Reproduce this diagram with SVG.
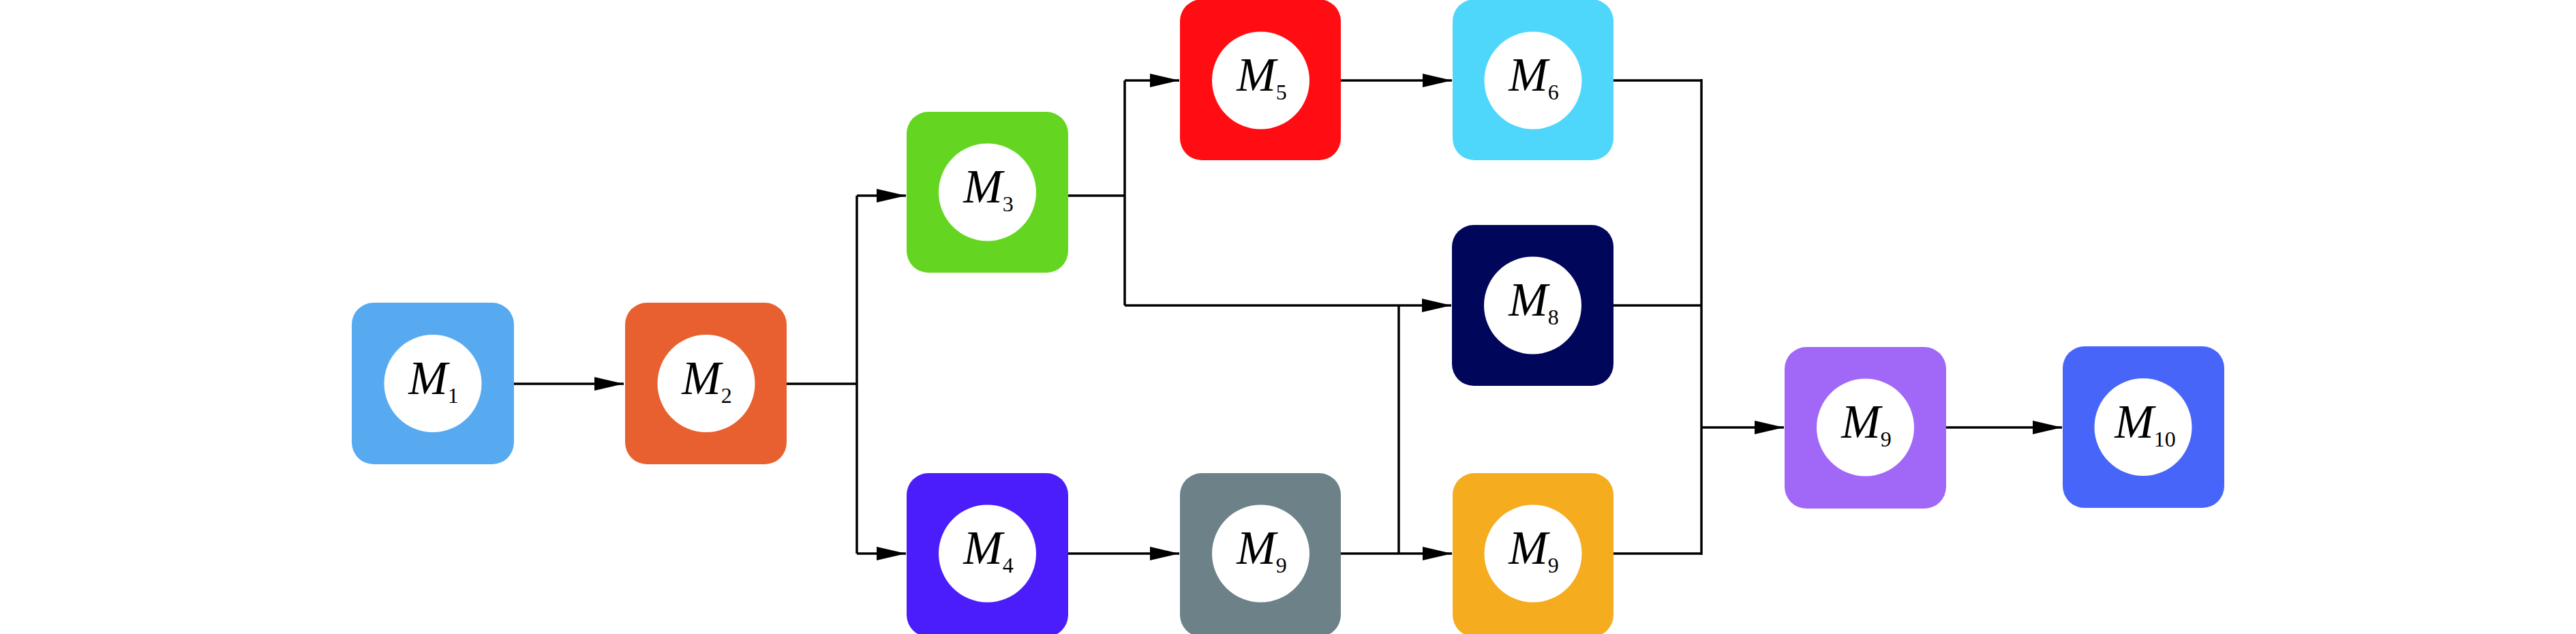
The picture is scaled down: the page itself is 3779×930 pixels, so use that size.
<svg xmlns="http://www.w3.org/2000/svg" width="3779" height="930" viewBox="0 0 3779 930">
<style>
.c{fill:#fff}
.t{font-family:"Liberation Serif","Times New Roman",serif;font-size:69px;font-style:italic;fill:#000;text-anchor:middle}
.s{font-size:32px;font-style:normal}
.e{fill:none;stroke:#000;stroke-width:3.5}
</style>
<defs>
<marker id="ah" markerUnits="userSpaceOnUse" markerWidth="44" markerHeight="22" refX="43" refY="10" orient="auto"><path d="M0,0 L43,10 L0,20 z" fill="#000"/></marker>
</defs>
<rect width="3779" height="930" fill="#fff"/>
<g id="connectors">
<path class="e" d="M754,563 H915" marker-end="url(#ah)"/>
<path class="e" d="M1154,563 H1257 M1257,287 V812"/>
<path class="e" d="M1257,287 H1329" marker-end="url(#ah)"/>
<path class="e" d="M1257,812 H1329" marker-end="url(#ah)"/>
<path class="e" d="M1567,287 H1650 M1650,118 V448"/>
<path class="e" d="M1650,118 H1730" marker-end="url(#ah)"/>
<path class="e" d="M1650,448 H2129" marker-end="url(#ah)"/>
<path class="e" d="M1567,812 H1730" marker-end="url(#ah)"/>
<path class="e" d="M1967,812 H2130" marker-end="url(#ah)"/>
<path class="e" d="M2052,448 V812"/>
<path class="e" d="M1967,118 H2130" marker-end="url(#ah)"/>
<path class="e" d="M2367,118 H2496 M2367,448 H2496 M2367,812 H2496 M2496,116 V814"/>
<path class="e" d="M2496,627 H2617" marker-end="url(#ah)"/>
<path class="e" d="M2855,627 H3025" marker-end="url(#ah)"/>
</g>
<g id="M1"><rect x="516" y="444" width="238" height="237" rx="32" fill="#58AAF0"/><circle class="c" cx="635" cy="562.5" r="71.5"/><text class="t" x="636" y="578">M<tspan class="s" dy="13">1</tspan></text></g>
<g id="M2"><rect x="917" y="444" width="237" height="237" rx="32" fill="#E8602F"/><circle class="c" cx="1036" cy="562.5" r="71.5"/><text class="t" x="1037" y="578">M<tspan class="s" dy="13">2</tspan></text></g>
<g id="M3"><rect x="1330" y="164" width="237" height="236" rx="32" fill="#64D621"/><circle class="c" cx="1448.5" cy="282" r="71.5"/><text class="t" x="1450" y="297">M<tspan class="s" dy="13">3</tspan></text></g>
<g id="M4"><rect x="1330" y="694" width="237" height="240" rx="32" fill="#4B1DFB"/><circle class="c" cx="1448.5" cy="812" r="71.5"/><text class="t" x="1450" y="827">M<tspan class="s" dy="13">4</tspan></text></g>
<g id="M5"><rect x="1731" y="-1" width="236" height="236" rx="32" fill="#FF0D12"/><circle class="c" cx="1849.5" cy="118" r="71.5"/><text class="t" x="1851" y="133">M<tspan class="s" dy="13">5</tspan></text></g>
<g id="M6"><rect x="2131" y="-1" width="236" height="236" rx="32" fill="#4FD6FB"/><circle class="c" cx="2249" cy="118" r="71.5"/><text class="t" x="2250" y="133">M<tspan class="s" dy="13">6</tspan></text></g>
<g id="M8"><rect x="2130" y="330" width="237" height="236" rx="32" fill="#00065A"/><circle class="c" cx="2248.5" cy="448" r="71.5"/><text class="t" x="2250" y="463">M<tspan class="s" dy="13">8</tspan></text></g>
<g id="M9a"><rect x="1731" y="694" width="236" height="240" rx="32" fill="#6C8188"/><circle class="c" cx="1849.5" cy="812" r="71.5"/><text class="t" x="1851" y="827">M<tspan class="s" dy="13">9</tspan></text></g>
<g id="M9b"><rect x="2131" y="694" width="236" height="240" rx="32" fill="#F5AC1F"/><circle class="c" cx="2249" cy="812" r="71.5"/><text class="t" x="2250" y="827">M<tspan class="s" dy="13">9</tspan></text></g>
<g id="M9c"><rect x="2618" y="509" width="237" height="237" rx="32" fill="#A168F8"/><circle class="c" cx="2736.5" cy="627" r="71.5"/><text class="t" x="2738" y="642">M<tspan class="s" dy="13">9</tspan></text></g>
<g id="M10"><rect x="3026" y="508" width="237" height="237" rx="32" fill="#4865F9"/><circle class="c" cx="3144" cy="626.5" r="71.5"/><text class="t" x="3147" y="642">M<tspan class="s" dy="13">10</tspan></text></g>
</svg>
